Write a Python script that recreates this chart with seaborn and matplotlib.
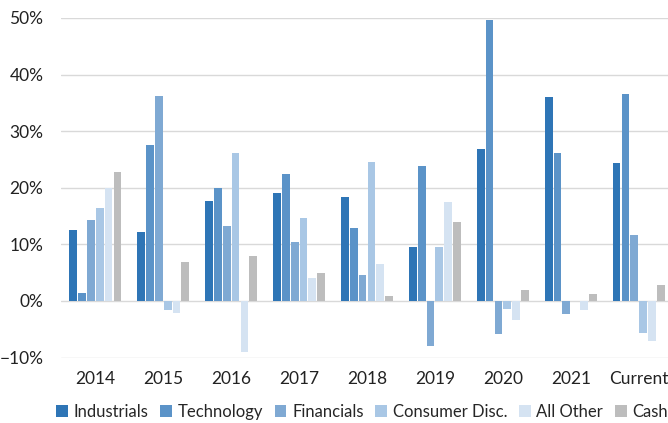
"""Sector returns by year – grouped bar chart."""

import numpy as np
import pandas as pd
import matplotlib.pyplot as plt
import seaborn as sns
from matplotlib.ticker import PercentFormatter

# ── Data ─────────────────────────────────────────────────────────────────────
years = ["2014", "2015", "2016", "2017", "2018", "2019", "2020", "2021", "Current"]
sectors = ["Industrials", "Technology", "Financials", "Consumer Disc.", "All Other", "Cash"]

industrials = [12.6, 12.2, 17.6, 19.1, 18.4, 9.6, 26.8, 36.0, 24.4]
technology  = [1.4, 27.6, 19.9, 22.5, 12.9, 23.8, 49.6, 26.2, 36.6]
financials  = [14.3, 36.2, 13.2, 10.5, 4.5, -8.0, -5.9, -2.4, 11.6]
consumer    = [16.5, -1.6, 26.1, 14.7, 24.5, 9.6, -1.5, np.nan, -5.6]
all_other   = [19.9, -2.1, -9.1, 4.1, 6.5, 17.5, -3.4, -1.6, -7.1]
cash        = [22.8, 6.9, 7.9, 4.9, 0.9, 13.9, 1.9, 1.2, 2.9]

colors = ["#2E75B6", "#5B93C8", "#7FA9D3", "#A9C7E5", "#D5E3F2", "#BDBDBD"]

series = [industrials, technology, financials, consumer, all_other, cash]
df = pd.DataFrame(
    [(y, s, v) for s, vals in zip(sectors, series) for y, v in zip(years, vals)],
    columns=["year", "sector", "value"],
)

# ── Style ────────────────────────────────────────────────────────────────────
sns.set_theme(style="white")
plt.rcParams["font.family"] = ["Lato", "DejaVu Sans"]

fig = plt.figure(figsize=(6.68, 4.23), dpi=100)
ax = fig.add_axes([61.4 / 668, 65.5 / 423, 611.2 / 668, 339.5 / 423])

sns.barplot(
    data=df, x="year", y="value", hue="sector",
    order=years, hue_order=sectors, palette=colors, saturation=1,
    width=0.78, gap=0.12, linewidth=0,
    ax=ax, legend=True,
)

ax.set_ylim(-10, 50)
ax.set_xlim(-0.5, 8.5)
ax.set_yticks(np.arange(-10, 51, 10))
ax.yaxis.set_major_formatter(PercentFormatter(decimals=0))
ax.yaxis.grid(True, color="#D9D9D9", linewidth=1)
ax.set_axisbelow(True)
for side in ["top", "right", "left", "bottom"]:
    ax.spines[side].set_visible(False)
ax.set_xlabel("")
ax.set_ylabel("")
ax.tick_params(axis="y", length=0, pad=13, labelsize=12.5, labelcolor="#222222")
ax.tick_params(axis="x", length=0, pad=10, labelsize=12.5, labelcolor="#222222")

handles, labels = ax.get_legend_handles_labels()
ax.get_legend().remove()
fig.legend(
    handles, labels, loc="center", bbox_to_anchor=(362 / 668, 1 - 412 / 423),
    ncol=6, frameon=False, fontsize=12, handlelength=0.7, handleheight=0.7,
    handletextpad=0.35, columnspacing=0.7, borderaxespad=0,
)

fig.savefig("out.png", dpi=100)
plt.close(fig)
